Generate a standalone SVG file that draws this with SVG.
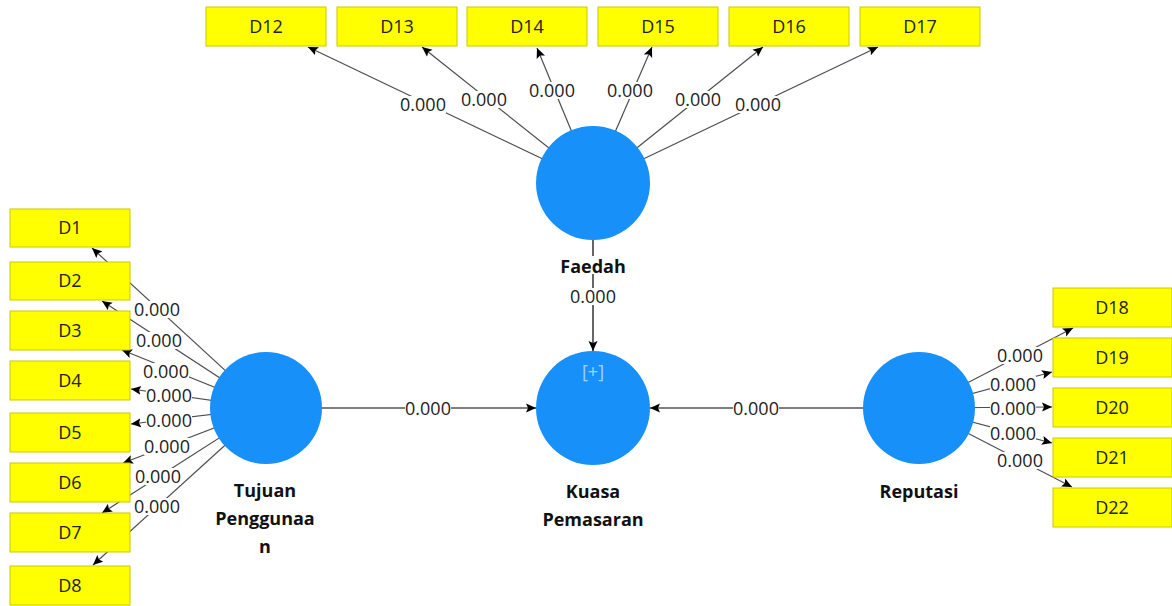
<svg xmlns="http://www.w3.org/2000/svg" width="1172" height="606" viewBox="0 0 1172 606">
<defs>
<marker id="ah" viewBox="0 0 10 10" refX="10" refY="5" markerWidth="10" markerHeight="10" markerUnits="userSpaceOnUse" orient="auto">
<path d="M0,0.5 L10,5 L0,9.5 L2,5 Z" fill="#000"/>
</marker>
<style>
.ind{stroke:#4d4d4d;stroke-width:1.2;fill:none;marker-end:url(#ah)}
.path{stroke:#000;stroke-width:1.2;fill:none;marker-end:url(#ah)}
.lb{fill:#fff}
.lt{font-family:"Open Sans","Noto Sans",sans-serif;font-size:18px;fill:#222;text-anchor:middle}
.box{fill:#ffff00;stroke:#c9c900;stroke-width:1}
.bt{font-family:"Open Sans","Noto Sans",sans-serif;font-size:18px;fill:#222;text-anchor:middle}
.lv{fill:#1790fa}
.nt{font-family:"Open Sans","Noto Sans",sans-serif;font-size:18px;font-weight:700;fill:#111;text-anchor:middle}
</style>
</defs>
<rect width="1172" height="606" fill="#fff"/>
<g id="connectors">
<!-- Faedah indicators -->
<line class="ind" x1="593" y1="183" x2="308" y2="47"/>
<line class="ind" x1="593" y1="183" x2="422" y2="47"/>
<line class="ind" x1="593" y1="183" x2="537" y2="48"/>
<line class="ind" x1="593" y1="183" x2="652" y2="47"/>
<line class="ind" x1="593" y1="183" x2="763" y2="47"/>
<line class="ind" x1="593" y1="183" x2="878" y2="47"/>
<!-- Tujuan indicators -->
<line class="ind" x1="266" y1="408" x2="92" y2="248"/>
<line class="ind" x1="266" y1="408" x2="102" y2="301"/>
<line class="ind" x1="266" y1="408" x2="122" y2="350"/>
<line class="ind" x1="266" y1="408" x2="131" y2="389"/>
<line class="ind" x1="266" y1="408" x2="131" y2="424"/>
<line class="ind" x1="266" y1="408" x2="123" y2="463"/>
<line class="ind" x1="266" y1="408" x2="102" y2="513"/>
<line class="ind" x1="266" y1="408" x2="93" y2="565"/>
<!-- Reputasi indicators -->
<line class="ind" x1="919" y1="408" x2="1073" y2="328"/>
<line class="ind" x1="919" y1="408" x2="1052" y2="372"/>
<line class="ind" x1="919" y1="408" x2="1052" y2="407"/>
<line class="ind" x1="919" y1="408" x2="1052" y2="443"/>
<line class="ind" x1="919" y1="408" x2="1072" y2="487"/>
<!-- structural paths -->
<line class="path" x1="593" y1="240" x2="593" y2="351"/>
<line class="path" x1="322" y1="408" x2="536" y2="408"/>
<line class="path" x1="863" y1="408" x2="650" y2="408"/>
</g>
<g id="n-faedah">
<circle class="lv" cx="593" cy="183" r="57"/>
<rect class="lb" x="561" y="256" width="64" height="18"/>
<text class="nt" x="593" y="273">Faedah</text>
</g>
<g id="n-kuasa">
<circle class="lv" cx="593" cy="408" r="57"/>
<text x="593" y="378" font-family="Open Sans, Noto Sans, sans-serif" font-size="18" fill="#ffffff" fill-opacity="0.6" text-anchor="middle">[+]</text>
<text class="nt" x="593" y="498">Kuasa</text>
<text class="nt" x="593" y="526">Pemasaran</text>
</g>
<g id="n-tujuan">
<circle class="lv" cx="266" cy="408" r="56"/>
<text class="nt" x="265" y="497">Tujuan</text>
<text class="nt" x="265" y="525">Penggunaa</text>
<text class="nt" x="265" y="553">n</text>
</g>
<g id="n-reputasi">
<circle class="lv" cx="919" cy="408" r="56"/>
<text class="nt" x="919" y="498">Reputasi</text>
</g>
<g id="n-D12"><rect class="box" x="206" y="7" width="120" height="39"/><text class="bt" x="266" y="33">D12</text></g>
<g id="n-D13"><rect class="box" x="337" y="7" width="120" height="39"/><text class="bt" x="397" y="33">D13</text></g>
<g id="n-D14"><rect class="box" x="467" y="7" width="120" height="39"/><text class="bt" x="527" y="33">D14</text></g>
<g id="n-D15"><rect class="box" x="598" y="7" width="120" height="39"/><text class="bt" x="658" y="33">D15</text></g>
<g id="n-D16"><rect class="box" x="729" y="7" width="120" height="39"/><text class="bt" x="789" y="33">D16</text></g>
<g id="n-D17"><rect class="box" x="860" y="7" width="120" height="39"/><text class="bt" x="920" y="33">D17</text></g>
<g id="n-D1"><rect class="box" x="10" y="209" width="120" height="38"/><text class="bt" x="70" y="234">D1</text></g>
<g id="n-D2"><rect class="box" x="10" y="262" width="120" height="38"/><text class="bt" x="70" y="287">D2</text></g>
<g id="n-D3"><rect class="box" x="10" y="311" width="120" height="39"/><text class="bt" x="70" y="337">D3</text></g>
<g id="n-D4"><rect class="box" x="10" y="361" width="120" height="39"/><text class="bt" x="70" y="387">D4</text></g>
<g id="n-D5"><rect class="box" x="10" y="413" width="120" height="39"/><text class="bt" x="70" y="439">D5</text></g>
<g id="n-D6"><rect class="box" x="10" y="463" width="120" height="39"/><text class="bt" x="70" y="489">D6</text></g>
<g id="n-D7"><rect class="box" x="10" y="513" width="120" height="39"/><text class="bt" x="70" y="539">D7</text></g>
<g id="n-D8"><rect class="box" x="10" y="566" width="120" height="39"/><text class="bt" x="70" y="592">D8</text></g>
<g id="n-D18"><rect class="box" x="1053" y="288" width="119" height="39"/><text class="bt" x="1112" y="314">D18</text></g>
<g id="n-D19"><rect class="box" x="1053" y="338" width="119" height="39"/><text class="bt" x="1112" y="364">D19</text></g>
<g id="n-D20"><rect class="box" x="1053" y="388" width="119" height="39"/><text class="bt" x="1112" y="414">D20</text></g>
<g id="n-D21"><rect class="box" x="1053" y="438" width="119" height="39"/><text class="bt" x="1112" y="464">D21</text></g>
<g id="n-D22"><rect class="box" x="1053" y="488" width="119" height="39"/><text class="bt" x="1112" y="514">D22</text></g>
<g id="labels">
<rect class="lb" x="400" y="96" width="46" height="17"/><text class="lt" x="423" y="111">0.000</text>
<rect class="lb" x="461" y="91" width="46" height="17"/><text class="lt" x="484" y="106">0.000</text>
<rect class="lb" x="529" y="82" width="46" height="17"/><text class="lt" x="552" y="97">0.000</text>
<rect class="lb" x="607" y="82" width="46" height="17"/><text class="lt" x="630" y="97">0.000</text>
<rect class="lb" x="675" y="91" width="46" height="17"/><text class="lt" x="698" y="106">0.000</text>
<rect class="lb" x="735" y="96" width="46" height="17"/><text class="lt" x="758" y="111">0.000</text>
<rect class="lb" x="134" y="301" width="46" height="17"/><text class="lt" x="157" y="316">0.000</text>
<rect class="lb" x="136" y="332" width="46" height="17"/><text class="lt" x="159" y="347">0.000</text>
<rect class="lb" x="143" y="363" width="46" height="17"/><text class="lt" x="166" y="378">0.000</text>
<rect class="lb" x="146" y="387" width="46" height="17"/><text class="lt" x="169" y="402">0.000</text>
<rect class="lb" x="146" y="412" width="46" height="17"/><text class="lt" x="169" y="427">0.000</text>
<rect class="lb" x="144" y="438" width="46" height="17"/><text class="lt" x="167" y="453">0.000</text>
<rect class="lb" x="135" y="468" width="46" height="17"/><text class="lt" x="158" y="483">0.000</text>
<rect class="lb" x="134" y="498" width="46" height="17"/><text class="lt" x="157" y="513">0.000</text>
<rect class="lb" x="997" y="347" width="46" height="17"/><text class="lt" x="1020" y="362">0.000</text>
<rect class="lb" x="990" y="376" width="46" height="17"/><text class="lt" x="1013" y="391">0.000</text>
<rect class="lb" x="990" y="400" width="46" height="17"/><text class="lt" x="1013" y="415">0.000</text>
<rect class="lb" x="990" y="425" width="46" height="17"/><text class="lt" x="1013" y="440">0.000</text>
<rect class="lb" x="997" y="452" width="46" height="17"/><text class="lt" x="1020" y="467">0.000</text>
<rect class="lb" x="570" y="288" width="46" height="17"/><text class="lt" x="593" y="303">0.000</text>
<rect class="lb" x="405" y="400" width="46" height="17"/><text class="lt" x="428" y="415">0.000</text>
<rect class="lb" x="733" y="400" width="46" height="17"/><text class="lt" x="756" y="415">0.000</text>
</g>
</svg>
